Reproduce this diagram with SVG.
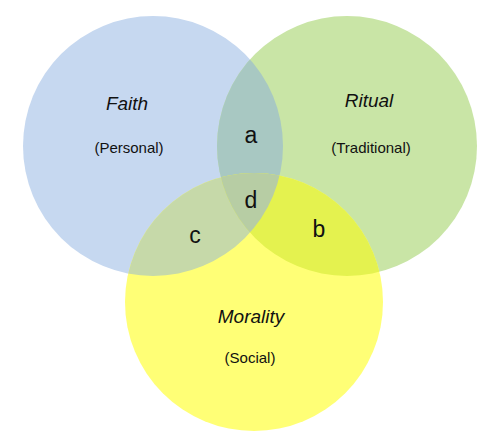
<svg xmlns="http://www.w3.org/2000/svg" width="498" height="445" viewBox="0 0 498 445">
<style>
.t{font-family:"Liberation Sans",Arial,sans-serif;fill:#111;text-anchor:middle}
.h{font-size:19px;font-style:italic}
.s{font-size:15px}
.r{font-size:23px}
</style>
<defs>
<clipPath id="cB"><circle cx="153" cy="146" r="130"/></clipPath>
<clipPath id="cG"><circle cx="347" cy="146" r="130"/></clipPath>
<clipPath id="cY"><circle cx="254" cy="302" r="129"/></clipPath>
</defs>
<rect width="498" height="445" fill="#fff"/>
<g id="faith"><circle cx="153" cy="146" r="130" fill="#c6d8f0"/></g>
<g id="ritual"><circle cx="347" cy="146" r="130" fill="#c9e5a6"/></g>
<g id="morality"><circle cx="254" cy="302" r="129" fill="#ffff76"/></g>
<g id="overlaps">
<g clip-path="url(#cB)"><circle cx="347" cy="146" r="130" fill="#a8c8c2"/></g>
<g clip-path="url(#cB)"><circle cx="254" cy="302" r="129" fill="#c6d9a9"/></g>
<g clip-path="url(#cG)"><circle cx="254" cy="302" r="129" fill="#e4f24f"/></g>
<g clip-path="url(#cB)"><g clip-path="url(#cG)"><circle cx="254" cy="302" r="129" fill="#b7cda4"/></g></g>
</g>
<g id="labels">
<text class="t h" x="127" y="110">Faith</text>
<text class="t s" x="129" y="153">(Personal)</text>
<text class="t h" x="369" y="107">Ritual</text>
<text class="t s" x="371" y="153">(Traditional)</text>
<text class="t h" x="251" y="323">Morality</text>
<text class="t s" x="250" y="363">(Social)</text>
<text class="t r" x="251" y="143">a</text>
<text class="t r" x="251" y="208">d</text>
<text class="t r" x="195" y="243">c</text>
<text class="t r" x="319" y="237">b</text>
</g>
</svg>
